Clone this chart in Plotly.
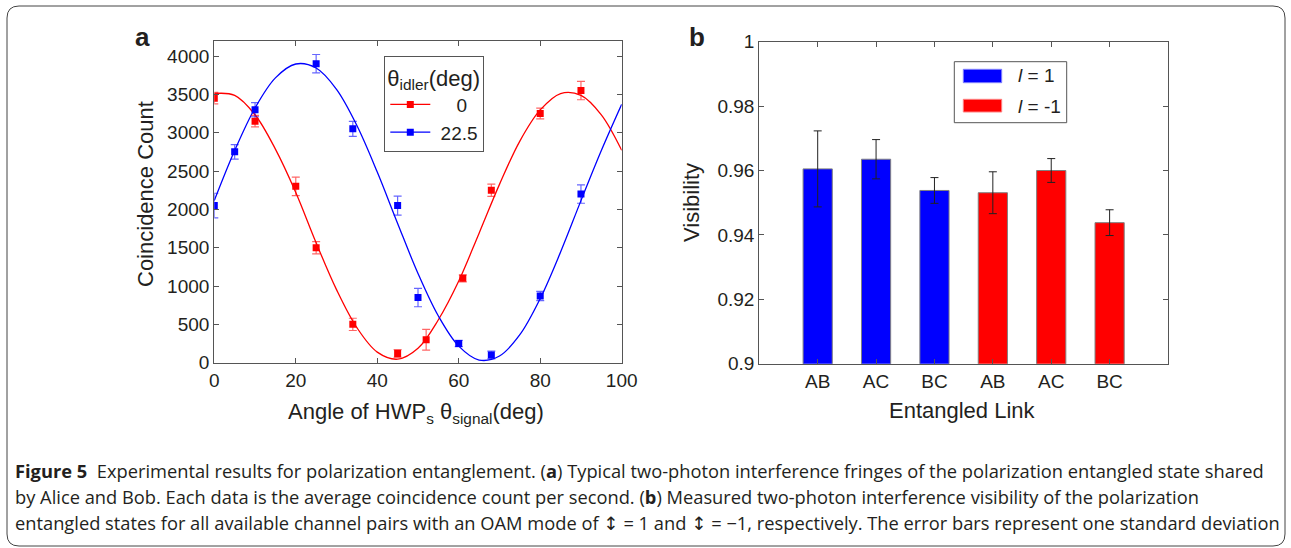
import plotly.graph_objects as go

W, H = 1291, 548

# ---- panel a: coincidence counts vs HWP angle ----
red_x = [0, 10, 20, 25, 34, 45, 52, 61, 68, 80, 90]
red_y = [3450, 3150, 2300, 1500, 500, 120, 300, 1100, 2250, 3250, 3550]
red_err = [75, 75, 120, 80, 80, 50, 135, 45, 80, 70, 120]

blue_x = [0, 5, 10, 25, 34, 45, 50, 60, 68, 80, 90]
blue_y = [2050, 2750, 3300, 3900, 3050, 2050, 850, 250, 100, 870, 2200]
blue_err = [160, 95, 92, 120, 98, 124, 120, 40, 50, 60, 120]

# fitted curves, every 5 deg
fit_x = list(range(0, 101, 5))
red_fit = [3511, 3487, 3234, 2786, 2220, 1563, 953, 457, 138, 46, 188,
           560, 1065, 1690, 2326, 2891, 3297, 3511, 3487, 3233, 2770]
blue_fit = [2114, 2767, 3322, 3715, 3896, 3844, 3566, 3094, 2487, 1817, 1164,
            609, 216, 35, 87, 365, 837, 1444, 2114, 2767, 3370]

# ---- panel b: visibility per link ----
links = ["AB", "AC", "BC", "AB", "AC", "BC"]
vis_plus = [0.9605, 0.9635, 0.9538]
err_plus = [0.0118, 0.0061, 0.0040]
vis_minus = [0.9531, 0.9600, 0.9438]
err_minus = [0.0065, 0.0037, 0.0040]

ARROW = "<span style='font-family:DejaVu Sans'>\u2195</span>"
caption = [
    "<b>Figure 5</b>  Experimental results for polarization entanglement. (<b>a</b>) Typical two-photon "
    "interference fringes of the polarization entangled state shared",
    "by Alice and Bob. Each data is the average coincidence count per second. (<b>b</b>) Measured "
    "two-photon interference visibility of the polarization",
    f"entangled states for all available channel pairs with an OAM mode of {ARROW} = 1 and {ARROW} = \u22121, "
    "respectively. The error bars represent one standard deviation",
]

FONT = "Liberation Sans, Arial, sans-serif"
AX = "#555555"
TXT = "#231f20"
NB = "\u00a0"


def px(x):
    return x / W


def py(y):
    return 1 - y / H


fig = go.Figure()

# panel a traces
for fx, fy, col in [(fit_x, red_fit, "#ff0000"), (fit_x, blue_fit, "#0000ff")]:
    fig.add_trace(go.Scatter(x=fx, y=fy, mode="lines", line=dict(color=col, width=1.3, shape="spline"),
                             showlegend=False, hoverinfo="skip", xaxis="x", yaxis="y"))

for xs, ys, es, col, ecol in [
    (red_x, red_y, red_err, "#ff0000", "rgba(255,0,0,0.6)"),
    (blue_x, blue_y, blue_err, "#0000ff", "rgba(0,0,255,0.6)"),
]:
    fig.add_trace(go.Scatter(
        x=xs, y=ys, mode="markers", showlegend=False,
        marker=dict(symbol="square", size=7, color=col),
        error_y=dict(type="data", array=es, color=ecol, thickness=1.2, width=4),
        xaxis="x", yaxis="y"))

# legend entries for panel a
for name, col in [(NB * 4 + "0", "#ff0000"), (NB + "22.5", "#0000ff")]:
    fig.add_trace(go.Scatter(x=[None], y=[None], mode="lines+markers", name=name,
                             line=dict(color=col, width=1.3),
                             marker=dict(symbol="square", size=7, color=col),
                             xaxis="x", yaxis="y"))

# panel b bars
for xs, ys, es, col in [([1, 2, 3], vis_plus, err_plus, "#0000ff"),
                        ([4, 5, 6], vis_minus, err_minus, "#ff0000")]:
    fig.add_trace(go.Bar(
        x=xs, y=ys, width=0.5, showlegend=False,
        marker=dict(color=col, line=dict(color="#808080", width=1)),
        error_y=dict(type="data", array=es, color="#222222", thickness=1, width=4),
        xaxis="x2", yaxis="y2"))

axis_common = dict(showline=True, linecolor=AX, linewidth=1.2, mirror="ticks", ticks="inside",
                   ticklen=5, tickcolor=AX, showgrid=False, zeroline=False, automargin=False,
                   tickfont=dict(family=FONT, size=19, color=TXT))

fig.update_layout(
    width=W, height=H,
    margin=dict(l=0, r=0, t=0, b=0, pad=0, autoexpand=False),
    paper_bgcolor="white", plot_bgcolor="white",
    font=dict(family=FONT, color=TXT),
    xaxis=dict(domain=[px(214.3), px(621.7)], range=[0, 100], dtick=20, anchor="y", **axis_common),
    yaxis=dict(domain=[py(362.7), py(40.7)], range=[0, 4200], dtick=500, anchor="x", **axis_common),
    xaxis2=dict(domain=[px(759.3), px(1168)], range=[0, 7], tickvals=[1, 2, 3, 4, 5, 6],
                ticktext=links, anchor="y2", **axis_common),
    yaxis2=dict(domain=[py(363.7), py(41.7)], range=[0.9, 1.0],
                tickvals=[0.9, 0.92, 0.94, 0.96, 0.98, 1.0],
                ticktext=["0.9", "0.92", "0.94", "0.96", "0.98", "1"], anchor="x2", **axis_common),
    showlegend=True,
    legend=dict(x=px(384.3), y=py(56), xanchor="left", yanchor="top",
                bordercolor=AX, borderwidth=1, bgcolor="white",
                title=dict(text="\u03b8<sub>idler</sub>(deg)", font=dict(size=22, family=FONT)),
                font=dict(size=19, family=FONT), tracegroupgap=0, itemwidth=40),
)

ann = []
# panel labels
ann.append(dict(x=px(142), y=py(37), text="<b>a</b>", font=dict(size=26, family=FONT, color=TXT)))
ann.append(dict(x=px(697), y=py(37), text="<b>b</b>", font=dict(size=26, family=FONT, color=TXT)))
# axis titles
ann.append(dict(x=px(416), y=py(413), text="Angle of HWP<sub>s</sub> \u03b8<sub>signal</sub>(deg)",
                font=dict(size=22, family=FONT, color=TXT)))
ann.append(dict(x=px(146), y=py(194), text="Coincidence Count", textangle=-90,
                font=dict(size=22, family=FONT, color=TXT)))
ann.append(dict(x=px(962), y=py(410), text="Entangled Link",
                font=dict(size=22, family=FONT, color=TXT)))
ann.append(dict(x=px(691), y=py(203), text="Visibility", textangle=-90,
                font=dict(size=22, family=FONT, color=TXT)))
# panel b legend text
ann.append(dict(x=px(1016), y=py(76), xanchor="left", text="<i>l</i> = 1",
                font=dict(size=19, family=FONT, color=TXT)))
ann.append(dict(x=px(1016), y=py(106), xanchor="left", text="<i>l</i> = -1",
                font=dict(size=19, family=FONT, color=TXT)))
# caption
for i, line in enumerate(caption):
    ann.append(dict(x=px(13), y=py(470 + 26 * i), xanchor="left", text=line,
                    font=dict(size=18.3, family="Open Sans, sans-serif", color=TXT)))
for a in ann:
    a.setdefault("xref", "paper")
    a.setdefault("yref", "paper")
    a.setdefault("xanchor", "center")
    a.setdefault("yanchor", "middle")
    a.setdefault("showarrow", False)
fig.update_layout(annotations=ann)

shapes = []
# panel b legend box and swatches
shapes.append(dict(type="rect", xref="paper", yref="paper", x0=px(954.3), x1=px(1066.7),
                   y0=py(122.7), y1=py(61.7), line=dict(color=AX, width=1), fillcolor="white", layer="below"))
shapes.append(dict(type="rect", xref="paper", yref="paper", x0=px(963.3), x1=px(1001.7),
                   y0=py(82.7), y1=py(69.3), line=dict(color="#8080ff", width=1), fillcolor="#0000ff"))
shapes.append(dict(type="rect", xref="paper", yref="paper", x0=px(963.3), x1=px(1001.7),
                   y0=py(112), y1=py(99.3), line=dict(color="#ff8080", width=1), fillcolor="#ff0000"))

# rounded outer frame
x0, x1, y0, y1, r = 7, 1285, 6, 546, 12
path = (f"M {px(x0 + r)} {py(y0)} L {px(x1 - r)} {py(y0)} Q {px(x1)} {py(y0)} {px(x1)} {py(y0 + r)} "
        f"L {px(x1)} {py(y1 - r)} Q {px(x1)} {py(y1)} {px(x1 - r)} {py(y1)} "
        f"L {px(x0 + r)} {py(y1)} Q {px(x0)} {py(y1)} {px(x0)} {py(y1 - r)} "
        f"L {px(x0)} {py(y0 + r)} Q {px(x0)} {py(y0)} {px(x0 + r)} {py(y0)} Z")
shapes.append(dict(type="path", xref="paper", yref="paper", path=path,
                   line=dict(color="#444444", width=1)))
fig.update_layout(shapes=shapes)

# drop the default page margin so the figure sits at the window's corner
fig.write_html("out.html", config={"displayModeBar": False},
               post_script="document.body.style.margin='0px';")
